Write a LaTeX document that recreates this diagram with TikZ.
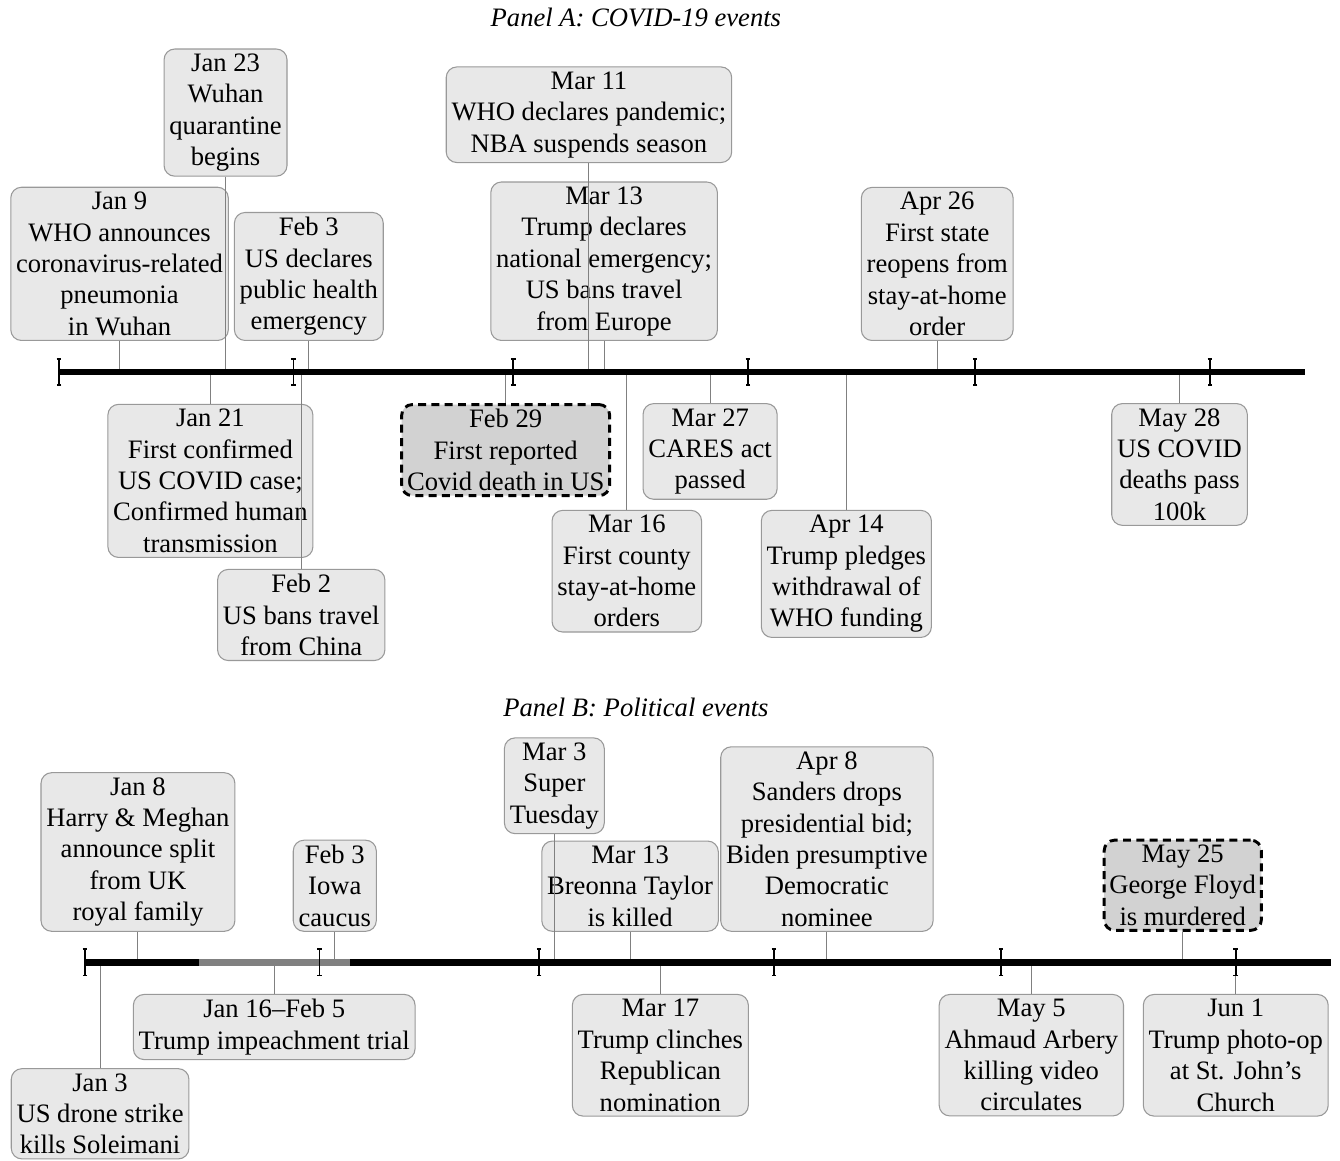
\documentclass[tikz,border=0pt]{standalone}
\usepackage{fontspec}
\setmainfont{Liberation Serif}
\usetikzlibrary{arrows.meta}

\begin{document}
\begin{tikzpicture}[x=1mm, y=1mm,
  every node/.style={font=\fontsize{10}{11.8}\selectfont},
  event/.style={draw=gray!80, fill=gray!18, rounded corners=4pt, align=center, inner xsep=2pt, inner ysep=1.8pt},
  keyevent/.style={event, draw=black, fill=gray!35, dash pattern=on 3pt off 2pt, line width=1.1pt},
  link/.style={draw=gray, line width=0.4pt},
  axisline/.style={line width=0.9mm},
  monthtick/.style={{Bar[width=0.6mm]}-{Bar[width=0.6mm]}, line width=0.6pt}]
  \useasboundingbox (-7.79,-104.2) rectangle (169.2,49.14);

  % Panel A: covid timeline
  \node (titleA) at (76.2,46.8) {\itshape Panel A: COVID-19 events};
  \node[event, anchor=south] (a-jan9) at (8,4.1) {Jan 9\\WHO announces\\coronavirus-related\\pneumonia\\in Wuhan};
  \node[event, anchor=south] (a-jan23) at (22,25.8) {Jan 23\\Wuhan\\quarantine\\begins};
  \node[event, anchor=south] (a-feb3) at (33,4.1) {Feb 3\\US declares\\public health\\emergency};
  \node[event, anchor=south] (a-mar11) at (70,27.6) {Mar 11\\WHO declares pandemic;\\NBA suspends season};
  \node[event, anchor=south] (a-mar13) at (72,4.1) {Mar 13\\Trump declares\\national emergency;\\US bans travel\\from Europe};
  \node[event, anchor=south] (a-apr26) at (116,4.1) {Apr 26\\First state\\reopens from\\stay-at-home\\order};
  \node[event, anchor=north] (a-jan21) at (20,-4.2) {Jan 21\\First confirmed\\US COVID case;\\Confirmed human\\transmission};
  \node[event, anchor=north] (a-feb2) at (32,-26.0) {Feb 2\\US bans travel\\from China};
  \node[keyevent, anchor=north] (a-feb29) at (59,-4.1) {Feb 29\\First reported\\Covid death in US};
  \node[event, anchor=north] (a-mar27) at (86,-4.1) {Mar 27\\CARES act\\passed};
  \node[event, anchor=north] (a-mar16) at (75,-18.2) {Mar 16\\First county\\stay-at-home\\orders};
  \node[event, anchor=north] (a-apr14) at (104,-18.2) {Apr 14\\Trump pledges\\withdrawal of\\WHO funding};
  \node[event, anchor=north] (a-may28) at (148,-4.1) {May 28\\US COVID\\deaths pass\\100k};
  \foreach \n/\d in {jan9/8,jan23/22,feb3/33,mar11/70,mar13/72,apr26/116,jan21/20,feb2/32,feb29/59,mar27/86,mar16/75,apr14/104,may28/148} {
    \coordinate (pa-\n) at (\d,0);
    \draw[link] (a-\n) -- (pa-\n);
  }
  \draw[axisline] (0,0) -- (164.6,0);
  \foreach \m in {0,31,60,91,121,152} { \draw[monthtick] (\m,-1.85) -- (\m,1.85); }

  % Panel B: political timeline
  \node (titleB) at (76.2,-44.3) {\itshape Panel B: Political events};
  \begin{scope}[shift={(3.43,-77.94)}]
    \node[event, anchor=south] (b-jan8) at (7,4.0) {Jan 8\\Harry \& Meghan\\announce split\\from UK\\royal family};
    \node[event, anchor=south] (b-feb3) at (33,4.0) {Feb 3\\Iowa\\caucus};
    \node[event, anchor=south] (b-mar3) at (62,16.9) {Mar 3\\Super\\Tuesday};
    \node[event, anchor=south] (b-mar13) at (72,4.0) {Mar 13\\Breonna Taylor\\is killed};
    \node[event, anchor=south] (b-apr8) at (98,4.0) {Apr 8\\Sanders drops\\presidential bid;\\Biden presumptive\\Democratic\\nominee};
    \node[keyevent, anchor=south] (b-may25) at (145,4.0) {May 25\\George Floyd\\is murdered};
    \node[event, anchor=north] (b-jan3) at (2,-14.0) {Jan 3\\US drone strike\\kills Soleimani};
    \node[event, anchor=north] (b-trial) at (25,-4.2) {Jan 16--Feb 5\\Trump impeachment trial};
    \node[event, anchor=north] (b-mar17) at (76,-4.2) {Mar 17\\Trump clinches\\Republican\\nomination};
    \node[event, anchor=north] (b-may5) at (125,-4.2) {May 5\\Ahmaud Arbery\\killing video\\circulates};
    \node[event, anchor=north] (b-jun1) at (152,-4.2) {Jun 1\\Trump photo-op\\at St. John's\\Church};
    \foreach \n/\d in {jan8/7,feb3/33,mar3/62,mar13/72,apr8/98,may25/145,jan3/2,trial/25,mar17/76,may5/125,jun1/152} {
      \coordinate (pb-\n) at (\d,0);
      \draw[link] (b-\n) -- (pb-\n);
    }
    \draw[axisline] (0,0) -- (164.6,0);
    \draw[axisline, gray] (15,0) -- (35,0);
    \foreach \m in {0,31,60,91,121,152} { \draw[monthtick] (\m,-1.85) -- (\m,1.85); }
  \end{scope}
\end{tikzpicture}
\end{document}
